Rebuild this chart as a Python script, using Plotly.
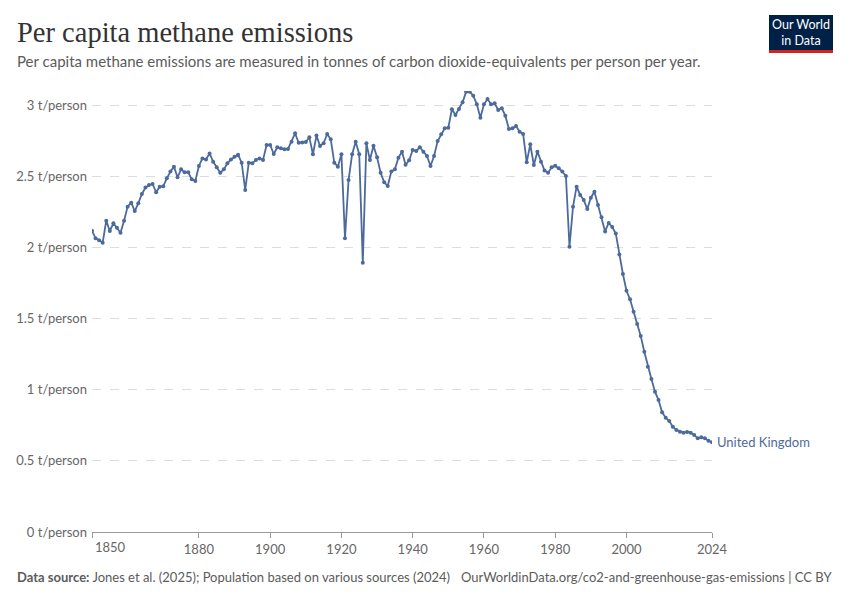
import plotly.graph_objects as go

# UK per capita methane emissions, t CO2-eq per person
years = list(range(1850, 2025))
uk_methane = [
    2.117, 2.063, 2.05, 2.033, 2.187, 2.115, 2.169, 2.138, 2.103, 2.187,
    2.286, 2.314, 2.255, 2.31, 2.375, 2.42, 2.438, 2.445, 2.387, 2.426,
    2.429, 2.485, 2.532, 2.567, 2.492, 2.548, 2.527, 2.527, 2.478, 2.466,
    2.572, 2.625, 2.618, 2.66, 2.602, 2.562, 2.524, 2.548, 2.59, 2.618,
    2.637, 2.651, 2.595, 2.403, 2.595, 2.59, 2.614, 2.625, 2.614, 2.719,
    2.719, 2.656, 2.703, 2.696, 2.689, 2.691, 2.742, 2.801, 2.735, 2.737,
    2.74, 2.773, 2.654, 2.785, 2.712, 2.731, 2.796, 2.759, 2.595, 2.567,
    2.654, 2.063, 2.473, 2.654, 2.742, 2.654, 1.892, 2.731, 2.614, 2.714,
    2.633, 2.524, 2.457, 2.431, 2.532, 2.548, 2.63, 2.672, 2.58, 2.612,
    2.684, 2.677, 2.703, 2.672, 2.642, 2.571, 2.642, 2.747, 2.794, 2.836,
    2.841, 2.97, 2.93, 2.972, 3.019, 3.094, 3.094, 3.065, 3.005, 2.911,
    3.005, 3.042, 3.005, 3.012, 2.965, 2.977, 2.925, 2.831, 2.836, 2.853,
    2.813, 2.796, 2.597, 2.724, 2.578, 2.672, 2.602, 2.539, 2.524, 2.562,
    2.574, 2.555, 2.532, 2.501, 2.004, 2.286, 2.426, 2.368, 2.333, 2.269,
    2.349, 2.391, 2.297, 2.211, 2.112, 2.171, 2.143, 2.097, 1.95, 1.813,
    1.695, 1.635, 1.548, 1.461, 1.377, 1.267, 1.161, 1.075, 0.986, 0.927,
    0.841, 0.803, 0.78, 0.74, 0.717, 0.705, 0.698, 0.703, 0.698, 0.682,
    0.658, 0.665, 0.658, 0.641, 0.63,
]
x_ticks = [1850, 1880, 1900, 1920, 1940, 1960, 1980, 2000, 2024]
y_ticks = [0, 0.5, 1, 1.5, 2, 2.5, 3]
y_labels = ["0 t/person", "0.5 t/person", "1 t/person", "1.5 t/person",
            "2 t/person", "2.5 t/person", "3 t/person"]

W, H = 850, 600
L, R, T, B = 92, 138, 91, 68
PW, PH = W - L - R, H - T - B
LINE = "#4c6a9c"
GREY = "#5b5b5b"


def px(x):
    return (x - L) / PW


def py(y):
    return (H - B - y) / PH


fig = go.Figure()
fig.add_trace(go.Scatter(
    x=years, y=uk_methane, mode="lines+markers",
    line=dict(color=LINE, width=1.8),
    marker=dict(color=LINE, size=4),
    name="United Kingdom", showlegend=False,
))

fig.update_xaxes(
    range=[1850, 2024], tickvals=x_ticks,
    ticktext=[""] + [str(t) for t in x_ticks[1:]],
    showgrid=False, showline=True, linecolor="#999", linewidth=1,
    ticks="outside", ticklen=5, tickcolor="#999",
    tickfont=dict(family="Lato", size=13, color="#666"),
    zeroline=False, fixedrange=True,
)
fig.update_yaxes(
    range=[0, PH / 142.33], tickvals=y_ticks, ticktext=y_labels,
    showgrid=True, gridcolor="#dddddd", griddash="dash", gridwidth=1,
    zeroline=False, showline=False, ticks="", ticklabelstandoff=4,
    tickfont=dict(family="Lato", size=13, color="#666"),
    fixedrange=True,
)

annotations = [
    dict(x=1850, y=0, xref="x", yref="paper", text="1850", showarrow=False,
         xanchor="left", yanchor="top", yshift=-5, xshift=1,
         font=dict(family="Lato", size=13, color="#666")),
    dict(x=2024, y=uk_methane[-1], xref="x", yref="y", text="United Kingdom",
         showarrow=False, xanchor="left", yanchor="middle", xshift=3,
         font=dict(family="Lato", size=13, color=LINE)),
    dict(x=px(15), y=py(32), xref="paper", yref="paper",
         text="Per capita methane emissions", showarrow=False,
         xanchor="left", yanchor="middle",
         font=dict(family="Liberation Serif", size=28.5, color="#333")),
    dict(x=px(15), y=py(61), xref="paper", yref="paper",
         text="Per capita methane emissions are measured in tonnes of carbon dioxide-equivalents per person per year.",
         showarrow=False, xanchor="left", yanchor="middle",
         font=dict(family="Lato", size=15, color=GREY)),
    dict(x=px(15), y=py(577), xref="paper", yref="paper",
         text="<b>Data source:</b> Jones et al. (2025); Population based on various sources (2024)",
         showarrow=False, xanchor="left", yanchor="middle",
         font=dict(family="Lato", size=13, color=GREY)),
    dict(x=px(834), y=py(577), xref="paper", yref="paper",
         text="OurWorldinData.org/co2-and-greenhouse-gas-emissions | CC BY",
         showarrow=False, xanchor="right", yanchor="middle",
         font=dict(family="Lato", size=13, color=GREY)),
    dict(x=px(801), y=py(33), xref="paper", yref="paper",
         text="Our World<br>in Data", showarrow=False,
         xanchor="center", yanchor="middle",
         font=dict(family="Lato", size=12.5, color="white")),
]

shapes = [
    dict(type="rect", xref="paper", yref="paper",
         x0=px(769), x1=px(833), y0=py(15), y1=py(50),
         fillcolor="#002147", line=dict(width=0)),
    dict(type="rect", xref="paper", yref="paper",
         x0=px(769), x1=px(833), y0=py(50), y1=py(53),
         fillcolor="#ce261e", line=dict(width=0)),
]

fig.update_layout(
    width=W, height=H,
    margin=dict(l=L, r=R, t=T, b=B),
    plot_bgcolor="white", paper_bgcolor="white",
    annotations=annotations, shapes=shapes,
    showlegend=False,
)

# page body has an 8px default margin, drop it so the chart sits at 0,0
fig.write_html("out.html", config={"displayModeBar": False},
               post_script="document.body.style.margin='0';")
